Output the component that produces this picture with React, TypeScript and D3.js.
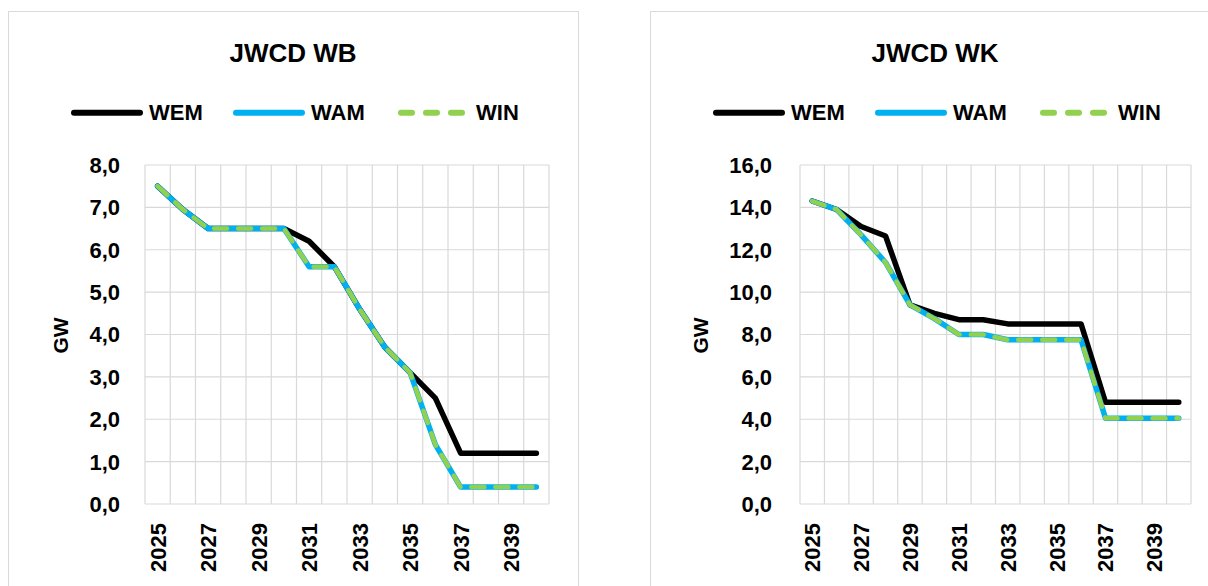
import React from "react";
import * as d3 from "d3";

const years = [2025, 2026, 2027, 2028, 2029, 2030, 2031, 2032, 2033, 2034, 2035, 2036, 2037, 2038, 2039, 2040];

const wbWEM = [7.5, 6.95, 6.5, 6.5, 6.5, 6.5, 6.2, 5.6, 4.6, 3.7, 3.1, 2.5, 1.2, 1.2, 1.2, 1.2];
const wbWAM = [7.5, 6.95, 6.5, 6.5, 6.5, 6.5, 5.6, 5.6, 4.6, 3.7, 3.1, 1.4, 0.4, 0.4, 0.4, 0.4];
const wbWIN = [7.5, 6.95, 6.5, 6.5, 6.5, 6.5, 5.6, 5.6, 4.6, 3.7, 3.1, 1.4, 0.4, 0.4, 0.4, 0.4];

const wkWEM = [14.3, 13.9, 13.1, 12.65, 9.4, 9.0, 8.7, 8.7, 8.5, 8.5, 8.5, 8.5, 4.8, 4.8, 4.8, 4.8];
const wkWAM = [14.3, 13.9, 12.7, 11.4, 9.4, 8.75, 8.0, 8.0, 7.75, 7.75, 7.75, 7.75, 4.05, 4.05, 4.05, 4.05];
const wkWIN = [14.3, 13.9, 12.7, 11.4, 9.4, 8.75, 8.0, 8.0, 7.75, 7.75, 7.75, 7.75, 4.05, 4.05, 4.05, 4.05];

const wbTicks = [0, 1, 2, 3, 4, 5, 6, 7, 8];
const wkTicks = [0, 2, 4, 6, 8, 10, 12, 14, 16];

const seriesNames = ["WEM", "WAM", "WIN"];

const FONT = "'Liberation Sans', Arial, sans-serif";
const GRID = "#d9d9d9";
const BLACK = "#000000";
const BLUE = "#00b0f0";
const GREEN = "#92d050";

type ChartProps = {
  x0: number;
  title: string;
  wem: number[];
  wam: number[];
  win: number[];
  ticks: number[];
  plotLeftOffset: number;
  gwOffset: number;
  tickGap: number;
};

function Chart({ x0, title, wem, wam, win, ticks, plotLeftOffset, gwOffset, tickGap }: ChartProps) {
  const frameW = 570;
  const top = 11;
  const plotLeft = x0 + plotLeftOffset;
  const plotRight = x0 + 541;
  const plotTop = 165;
  const plotBottom = 504;

  const x = d3
    .scaleBand<number>()
    .domain(years)
    .range([plotLeft, plotRight])
    .paddingInner(0)
    .paddingOuter(0);
  const y = d3
    .scaleLinear()
    .domain([0, ticks[ticks.length - 1]])
    .range([plotBottom, plotTop]);

  const bw = x.bandwidth();
  const line = d3
    .line<number>()
    .x((_, i) => (x(years[i]) as number) + bw / 2)
    .y((d) => y(d));

  const fmt = (v: number) => v.toFixed(1).replace(".", ",");

  const boundaries = years.map((yr) => x(yr) as number).concat([plotRight]);

  const legendStart = x0 + 63;
  const legendX = [legendStart, legendStart + 162, legendStart + 327];
  const legendY = 112.7;
  const legendColors = [BLACK, BLUE, GREEN];

  return (
    <g>
      <rect x={x0 + 0.5} y={top + 0.5} width={frameW} height={700} fill="#fff" stroke={GRID} strokeWidth={1} />
      <text
        x={x0 + 285}
        y={62}
        textAnchor="middle"
        fontFamily={FONT}
        fontWeight="bold"
        fontSize={26}
        fill="#000"
      >
        {title}
      </text>
      {seriesNames.map((name, i) => {
        const lx = legendX[i];
        return (
          <g key={name}>
            <line
              x1={lx + 3}
              x2={lx + 69}
              y1={legendY}
              y2={legendY}
              stroke={legendColors[i]}
              strokeWidth={6}
              strokeLinecap="round"
              strokeDasharray={i === 2 ? "11 14" : undefined}
            />
            <text x={lx + 78} y={119.5} fontFamily={FONT} fontWeight="bold" fontSize={22} fill="#000">
              {name}
            </text>
          </g>
        );
      })}
      {ticks.map((t) => (
        <line key={"h" + t} x1={plotLeft} x2={plotRight} y1={y(t)} y2={y(t)} stroke={GRID} strokeWidth={1.2} />
      ))}
      {boundaries.map((bx, i) => (
        <line key={"v" + i} x1={bx} x2={bx} y1={plotTop} y2={plotBottom} stroke={GRID} strokeWidth={1.2} />
      ))}
      {ticks.map((t) => (
        <text
          key={"t" + t}
          x={plotLeft - tickGap}
          y={y(t)}
          dy="0.36em"
          textAnchor="end"
          fontFamily={FONT}
          fontWeight="bold"
          fontSize={22}
          fill="#000"
        >
          {fmt(t)}
        </text>
      ))}
      <text
        transform={`translate(${x0 + gwOffset},${335.5}) rotate(-90)`}
        textAnchor="middle"
        dy="0.36em"
        fontFamily={FONT}
        fontWeight="bold"
        fontSize={21}
        fill="#000"
      >
        GW
      </text>
      {years.map((yr, i) =>
        i % 2 === 0 ? (
          <text
            key={"x" + yr}
            transform={`translate(${(x(yr) as number) + bw / 2},${523}) rotate(-90)`}
            textAnchor="end"
            dy="0.36em"
            fontFamily={FONT}
            fontWeight="bold"
            fontSize={22}
            fill="#000"
          >
            {yr}
          </text>
        ) : null
      )}
      <path d={line(wem) || ""} fill="none" stroke={BLACK} strokeWidth={5.5} strokeLinejoin="round" strokeLinecap="round" />
      <path d={line(wam) || ""} fill="none" stroke={BLUE} strokeWidth={5.5} strokeLinejoin="round" strokeLinecap="round" />
      <path
        d={line(win) || ""}
        fill="none"
        stroke={GREEN}
        strokeWidth={4.5}
        strokeLinejoin="round"
        strokeLinecap="round"
        strokeDasharray="13 11"
      />
    </g>
  );
}

export default function App() {
  return (
    <svg
      width={1208}
      height={586}
      style={{ position: "absolute", left: 0, top: 0, display: "block", background: "#fff" }}
    >
      <rect x={0} y={0} width={1208} height={586} fill="#fff" />
      <Chart x0={8} title="JWCD WB" wem={wbWEM} wam={wbWAM} win={wbWIN} ticks={wbTicks} plotLeftOffset={137} gwOffset={52} tickGap={25} />
      <Chart x0={650} title="JWCD WK" wem={wkWEM} wam={wkWAM} win={wkWIN} ticks={wkTicks} plotLeftOffset={150} gwOffset={50.5} tickGap={28} />
    </svg>
  );
}
